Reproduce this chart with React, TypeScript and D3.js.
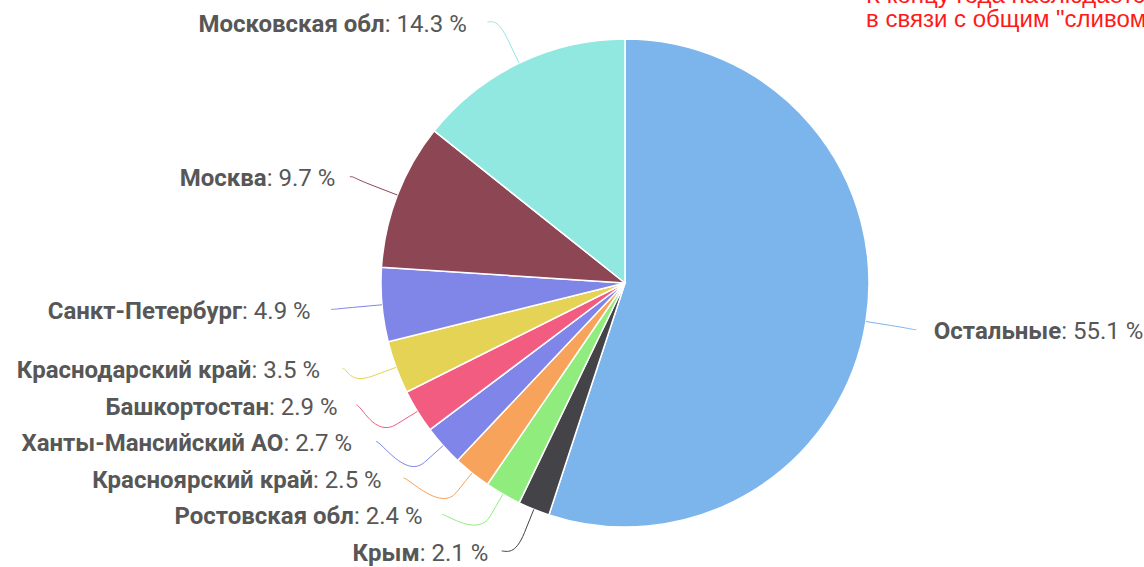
import React from 'react'
import * as d3 from 'd3'

// Regions and their shares, clockwise from 12 o'clock
const CATEGORIES = [
  'Остальные',
  'Крым',
  'Ростовская обл',
  'Красноярский край',
  'Ханты-Мансийский АО',
  'Башкортостан',
  'Краснодарский край',
  'Санкт-Петербург',
  'Москва',
  'Московская обл',
]
const VALUES = [55.1, 2.1, 2.4, 2.5, 2.7, 2.9, 3.5, 4.9, 9.7, 14.3]
const COLORS = [
  '#7cb5ec', '#434348', '#90ed7d', '#f7a35c', '#8085e9',
  '#f15c80', '#e4d354', '#8085e8', '#8d4653', '#91e8e1',
]
const NOTE_LINES = ['К концу года наблюдается', 'в связи с общим "сливом"']

const WIDTH = 1144
const HEIGHT = 567
const CX = 625
const CY = 283
const RADIUS = 244
const LABEL_DIST = 51
const BREAK_DIST = 25
const SLOT = 36.5
const Y_MIN = 22
const Y_MAX = 551
const FONT = 'Roboto, sans-serif'

type Label = {
  i: number
  left: boolean
  y: number
  mid: number
}

const valueText = (v: number) => `: ${v.toFixed(1)} %`

// rough label width, used for the spacing between connector and text
let ctx: CanvasRenderingContext2D | null = null
function labelWidth(name: string, value: string) {
  if (!ctx) ctx = document.createElement('canvas').getContext('2d')
  if (!ctx) return 200
  ctx.font = `bold 24px ${FONT}`
  const a = ctx.measureText(name).width
  ctx.font = `24px ${FONT}`
  return a + ctx.measureText(value).width
}

export default function App() {
  const arcs = d3.pie<number>().sort(null).value(d => d)(VALUES)
  const arcGen = d3.arc<d3.PieArcDatum<number>>().innerRadius(0).outerRadius(RADIUS)
  const R = RADIUS + LABEL_DIST

  // natural label positions
  const labels: Label[] = arcs.map((a, i) => {
    const mid = (a.startAngle + a.endAngle) / 2
    return { i, mid, left: Math.sin(mid) < 0, y: CY - R * Math.cos(mid) }
  })

  // push labels apart on each side
  ;[true, false].forEach(side => {
    const group = labels.filter(l => l.left === side).sort((a, b) => a.y - b.y)
    for (let k = group.length - 1; k >= 0; k--) {
      const below = k < group.length - 1 ? group[k + 1].y - SLOT : Y_MAX
      group[k].y = Math.min(group[k].y, below, Y_MAX)
    }
    for (let k = 0; k < group.length; k++) {
      const above = k > 0 ? group[k - 1].y + SLOT : Y_MIN
      group[k].y = Math.max(group[k].y, above, Y_MIN)
    }
  })

  const getX = (y: number, left: boolean) => {
    const dy = Math.max(-R, Math.min(R, y - CY))
    return CX + (left ? -1 : 1) * Math.sqrt(R * R - dy * dy)
  }

  return (
    <svg
      width={WIDTH}
      height={HEIGHT}
      style={{ position: 'fixed', left: 0, top: 0, background: '#fff' }}
      fontFamily={FONT}
    >
      <g transform={`translate(${CX},${CY})`}>
        {arcs.map((a, i) => (
          <path key={i} d={arcGen(a) || ''} fill={COLORS[i]} stroke="#fff" strokeWidth={1.5} strokeLinejoin="round" />
        ))}
      </g>

      {labels.map(l => {
        const x = getX(l.y, l.left)
        const tx = CX + RADIUS * Math.sin(l.mid)
        const ty = CY - RADIUS * Math.cos(l.mid)
        const bx = CX + (RADIUS + BREAK_DIST) * Math.sin(l.mid)
        const by = CY - (RADIUS + BREAK_DIST) * Math.cos(l.mid)
        const c1x = x + (l.left ? 5 : -5)
        const path = d3.path()
        path.moveTo(x, l.y)
        path.bezierCurveTo(c1x, l.y, 2 * bx - tx, 2 * by - ty, bx, by)
        path.lineTo(tx, ty)
        const val = valueText(VALUES[l.i])
        const gap = 6 + 0.055 * labelWidth(CATEGORIES[l.i], val)
        const textX = l.left ? x - gap : x + gap
        return (
          <g key={l.i}>
            <path d={path.toString()} fill="none" stroke={COLORS[l.i]} strokeWidth={1} />
            <text
              x={textX}
              y={l.y + 9.5}
              textAnchor={l.left ? 'end' : 'start'}
              fontSize={24}
              fill="#575757"
            >
              <tspan fontWeight="bold">{CATEGORIES[l.i]}</tspan>
              <tspan>{val}</tspan>
            </text>
          </g>
        )
      })}

      <text fontFamily="'Liberation Sans', Arial, sans-serif" fontSize={24} fill="#ff1a1a">
        {NOTE_LINES.map((line, i) => (
          <tspan key={i} x={866} y={3 + i * 23.5}>{line}</tspan>
        ))}
      </text>
    </svg>
  )
}
